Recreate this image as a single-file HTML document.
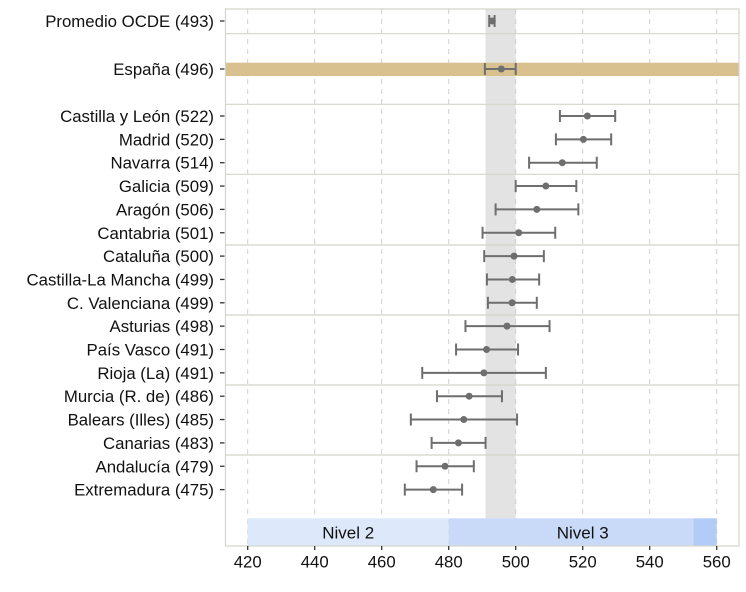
<!DOCTYPE html>
<html><head><meta charset="utf-8"><style>
body{margin:0;background:#fff;}
svg{display:block;font-family:"Liberation Sans",Arial,sans-serif;}
</style></head><body>
<svg id="chart" width="746" height="592"></svg>
<script>
const categories=["Promedio OCDE (493)","España (496)","Castilla y León (522)","Madrid (520)","Navarra (514)","Galicia (509)","Aragón (506)","Cantabria (501)","Cataluña (500)","Castilla-La Mancha (499)","C. Valenciana (499)","Asturias (498)","País Vasco (491)","Rioja (La) (491)","Murcia (R. de) (486)","Balears (Illes) (485)","Canarias (483)","Andalucía (479)","Extremadura (475)"];
const means=[493,495.7,521.4,520.2,513.9,509,506.3,500.9,499.5,499,498.9,497.4,491.3,490.5,486.1,484.5,482.9,478.9,475.4];
const lows=[492.1,490.8,513.2,512,504,500,494,490.1,490.6,491.4,491.7,485,482.2,472.1,476.5,468.7,474.9,470.4,466.9];
const highs=[493.7,500,529.7,528.5,524.2,518.1,518.7,511.8,508.4,507,506.3,510.1,500.7,509,495.9,500.4,491,487.5,484];
const ticks=[420,440,460,480,500,520,540,560];
const levelNames=["Nivel 2","Nivel 3",""];
const levelStart=[420,480,553];
const levelEnd=[480,553,560];
const oecdBand=[491,500];

const NS="http://www.w3.org/2000/svg";
const svg=document.getElementById('chart');
const L=225.5,R=739,T=9,B=546;
const x=v=>247.7+(v-420)*3.35;
const rowY=i=>i===0?21:(i===1?69:116+(i-2)*23.35);
function mk(tag,attrs,parent){const e=document.createElementNS(NS,tag);for(const k in attrs)e.setAttribute(k,attrs[k]);(parent||svg).appendChild(e);return e;}

let band=mk('rect',{x:x(oecdBand[0]),y:T,width:x(oecdBand[1])-x(oecdBand[0]),height:518.3-T,fill:'#e3e3e3'});


ticks.forEach(t=>{
  const g=mk('line',{x1:x(t),x2:x(t),y1:T,y2:B,stroke:'#cfcfcf','stroke-dasharray':'5,5','stroke-width':1});
  
  
});
let sp=mk('rect',{x:L,y:62.7,width:R-L,height:13.3,fill:'#d8c18e'});


[33.7,104.3,174.3,245,315,385,455].forEach((y,i)=>{
  const s=mk('line',{x1:L,x2:R,y1:y,y2:y,stroke:'#d4d4cc','stroke-width':1.2});
  
  
});
const lvCol=['#dde8fb','#c9daf9','#b3cbf7'];
levelStart.forEach((s,i)=>{
  const r=mk('rect',{x:x(s),y:518.3,width:x(levelEnd[i])-x(s),height:B-518.3,fill:lvCol[i]});
  
  
  if(levelNames[i]){
    const t=mk('text',{x:(x(s)+x(i===1?560:levelEnd[i]))/2,y:538.5,'text-anchor':'middle','font-size':17,fill:'#111'});
    t.textContent=levelNames[i];
    
    
  }
});
let fr=mk('rect',{x:L,y:T,width:R-L,height:B-T,fill:'none',stroke:'#d4d4cc','stroke-width':1.2});


categories.forEach((c,i)=>{
  const y=rowY(i);
  const lab=mk('text',{x:214,y:y+6,'text-anchor':'end','font-size':16.8,fill:'#111'});
  lab.textContent=c;
  
  
  const tk=mk('line',{x1:220,x2:224.5,y1:y,y2:y,stroke:'#333','stroke-width':1.3});
  
  
  const g=mk('g',{stroke:'#6e6e6e','stroke-width':2,fill:'#6e6e6e'});
  
  
  mk('line',{x1:x(lows[i]),x2:x(highs[i]),y1:y,y2:y},g);
  mk('line',{x1:x(lows[i]),x2:x(lows[i]),y1:y-6,y2:y+6},g);
  mk('line',{x1:x(highs[i]),x2:x(highs[i]),y1:y-6,y2:y+6},g);
  const d=mk('circle',{cx:x(means[i]),cy:y,r:3.5,fill:'#6e6e6e',stroke:'none'});
  
  
});
ticks.forEach(t=>{
  const tk=mk('line',{x1:x(t),x2:x(t),y1:B,y2:B+4,stroke:'#333','stroke-width':1.3});
  
  
  const lb=mk('text',{x:x(t),y:567.5,'text-anchor':'middle','font-size':16.8,fill:'#111'});
  lb.textContent=t;
  
  
});
</script>
</body></html>
